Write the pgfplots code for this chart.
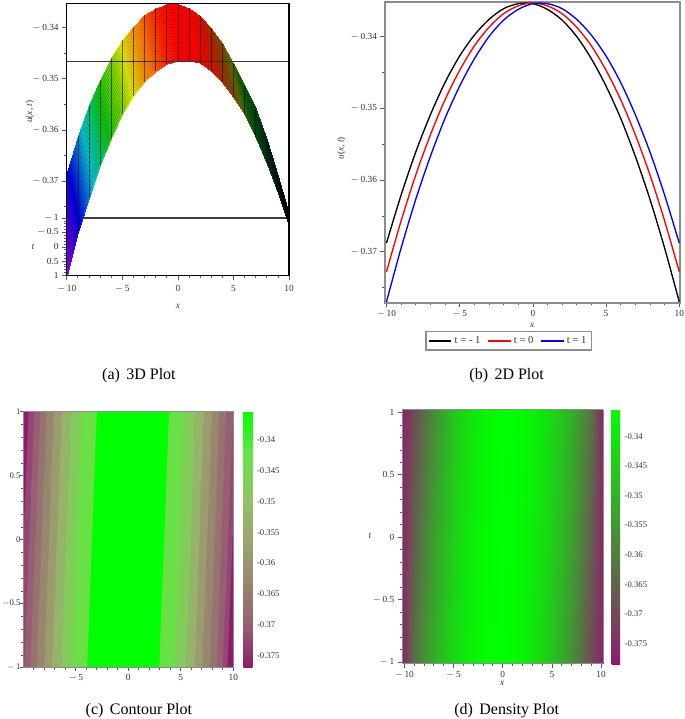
\documentclass[border=0pt]{standalone}
\usepackage{fontspec}
\setmainfont{Liberation Serif}
\usepackage{pgfplots}
\usepgfplotslibrary{patchplots}
\pgfplotsset{compat=1.18}
\definecolor{frameg}{gray}{0.55}
\definecolor{purp}{RGB}{142,28,110}

% x, v (screen height of the surface edge at t=-1 then t=1), signed distance from the peak
\pgfplotstableread{
-10 -.3682 -33.5
-9 -.3612 -26.8
-8 -.3552 -20.8
-7 -.3503 -15.6
-6 -.3460 -11.1
-5 -.3425 -7.4
-4 -.3398 -4.5
-3 -.3376 -2.3
-2 -.3361 -.8
-1 -.3354 -.1
0 -.3354 .1
1 -.3362 .9
2 -.3377 2.4
3 -.3400 4.7
4 -.3431 7.8
5 -.3469 11.6
6 -.3514 16.1
7 -.3560 21.4
8 -.3620 27.4
9 -.3690 34.2
10 -.3764 41.7
-10 -.3883 -41.7
-9 -.3799 -34.2
-8 -.3732 -27.4
-7 -.3669 -21.4
-6 -.3615 -16.1
-5 -.3569 -11.6
-4 -.3534 -7.8
-3 -.3506 -4.7
-2 -.3485 -2.4
-1 -.3472 -.9
0 -.3466 -.1
1 -.3466 .1
2 -.3470 .8
3 -.3484 2.3
4 -.3506 4.5
5 -.3535 7.4
6 -.3571 11.1
7 -.3616 15.6
8 -.3666 20.8
9 -.3723 26.8
10 -.3787 33.5
}\surftable

% the mesh lines of the surface, one column for each t
\pgfplotstableread{
x h1 h2 h3 h4 h5 h6 h7 h8 h9 h10 h11 h12 h13 h14 h15 h16 h17 h18 h19
-10 -.3692 -.3702 -.3712 -.3722 -.3732 -.3742 -.3752 -.3762 -.3772 -.3783 -.3793 -.3803 -.3813 -.3823 -.3833 -.3843 -.3853 -.3863 -.3873
-9 -.3621 -.3631 -.3640 -.3649 -.3659 -.3668 -.3677 -.3687 -.3696 -.3706 -.3715 -.3724 -.3734 -.3743 -.3752 -.3762 -.3771 -.3780 -.3790
-8 -.3561 -.3570 -.3579 -.3588 -.3597 -.3606 -.3615 -.3624 -.3633 -.3642 -.3651 -.3660 -.3669 -.3678 -.3687 -.3696 -.3705 -.3714 -.3723
-7 -.3511 -.3520 -.3528 -.3536 -.3545 -.3553 -.3561 -.3569 -.3578 -.3586 -.3594 -.3603 -.3611 -.3619 -.3628 -.3636 -.3644 -.3652 -.3661
-6 -.3468 -.3476 -.3483 -.3491 -.3499 -.3507 -.3514 -.3522 -.3530 -.3538 -.3545 -.3553 -.3561 -.3569 -.3576 -.3584 -.3592 -.3600 -.3607
-5 -.3432 -.3439 -.3447 -.3454 -.3461 -.3468 -.3475 -.3483 -.3490 -.3497 -.3504 -.3511 -.3519 -.3526 -.3533 -.3540 -.3547 -.3555 -.3562
-4 -.3405 -.3412 -.3418 -.3425 -.3432 -.3439 -.3446 -.3452 -.3459 -.3466 -.3473 -.3480 -.3486 -.3493 -.3500 -.3507 -.3514 -.3520 -.3527
-3 -.3383 -.3389 -.3396 -.3402 -.3409 -.3415 -.3422 -.3428 -.3435 -.3441 -.3448 -.3454 -.3461 -.3467 -.3474 -.3480 -.3487 -.3493 -.3500
-2 -.3367 -.3373 -.3380 -.3386 -.3392 -.3398 -.3404 -.3411 -.3417 -.3423 -.3429 -.3435 -.3442 -.3448 -.3454 -.3460 -.3466 -.3473 -.3479
-1 -.3360 -.3366 -.3372 -.3378 -.3384 -.3389 -.3395 -.3401 -.3407 -.3413 -.3419 -.3425 -.3431 -.3437 -.3443 -.3448 -.3454 -.3460 -.3466
0 -.3360 -.3365 -.3371 -.3376 -.3382 -.3388 -.3393 -.3399 -.3404 -.3410 -.3416 -.3421 -.3427 -.3432 -.3438 -.3444 -.3449 -.3455 -.3460
1 -.3367 -.3372 -.3378 -.3383 -.3388 -.3393 -.3398 -.3404 -.3409 -.3414 -.3419 -.3424 -.3430 -.3435 -.3440 -.3445 -.3450 -.3456 -.3461
2 -.3382 -.3386 -.3391 -.3396 -.3400 -.3405 -.3410 -.3414 -.3419 -.3424 -.3428 -.3433 -.3437 -.3442 -.3447 -.3451 -.3456 -.3461 -.3465
3 -.3404 -.3408 -.3413 -.3417 -.3421 -.3425 -.3429 -.3434 -.3438 -.3442 -.3446 -.3450 -.3455 -.3459 -.3463 -.3467 -.3471 -.3476 -.3480
4 -.3435 -.3439 -.3442 -.3446 -.3450 -.3454 -.3457 -.3461 -.3465 -.3469 -.3472 -.3476 -.3480 -.3484 -.3487 -.3491 -.3495 -.3499 -.3502
5 -.3472 -.3476 -.3479 -.3482 -.3486 -.3489 -.3492 -.3495 -.3499 -.3502 -.3505 -.3509 -.3512 -.3515 -.3519 -.3522 -.3525 -.3528 -.3532
6 -.3517 -.3520 -.3523 -.3525 -.3528 -.3531 -.3534 -.3537 -.3540 -.3543 -.3545 -.3548 -.3551 -.3554 -.3557 -.3560 -.3562 -.3565 -.3568
7 -.3563 -.3566 -.3568 -.3571 -.3574 -.3577 -.3580 -.3582 -.3585 -.3588 -.3591 -.3594 -.3596 -.3599 -.3602 -.3605 -.3608 -.3610 -.3613
8 -.3622 -.3625 -.3627 -.3629 -.3632 -.3634 -.3636 -.3638 -.3641 -.3643 -.3645 -.3648 -.3650 -.3652 -.3655 -.3657 -.3659 -.3661 -.3664
9 -.3692 -.3693 -.3695 -.3697 -.3698 -.3700 -.3702 -.3703 -.3705 -.3707 -.3708 -.3710 -.3711 -.3713 -.3715 -.3716 -.3718 -.3720 -.3721
10 -.3765 -.3766 -.3767 -.3769 -.3770 -.3771 -.3772 -.3773 -.3774 -.3776 -.3777 -.3778 -.3779 -.3780 -.3781 -.3782 -.3784 -.3785 -.3786
}\hatchtable

\pgfplotstableread{
-10.3 -1.02 -.3785
-9 -1.02 -.3621
-8 -1.02 -.3561
-7 -1.02 -.3509
-6 -1.02 -.3464
-5 -1.02 -.3427
-4 -1.02 -.3398
-3 -1.02 -.3376
-2 -1.02 -.3361
-1 -1.02 -.3354
0 -1.02 -.3354
1 -1.02 -.3362
2 -1.02 -.3377
3 -1.02 -.3400
4 -1.02 -.3431
5 -1.02 -.3469
6 -1.02 -.3514
7 -1.02 -.3567
8 -1.02 -.3627
9 -1.02 -.3695
10.3 -1.02 -.3785
-10.3 0 -.3785
-9 0 -.3657
-8 0 -.3593
-7 0 -.3537
-6 0 -.3488
-5 0 -.3447
-4 0 -.3413
-3 0 -.3387
-2 0 -.3368
-1 0 -.3357
0 0 -.3353
1 0 -.3357
2 0 -.3368
3 0 -.3387
4 0 -.3413
5 0 -.3447
6 0 -.3488
7 0 -.3537
8 0 -.3593
9 0 -.3657
10.3 0 -.3785
-10.3 1.02 -.3785
-9 1.02 -.3695
-8 1.02 -.3627
-7 1.02 -.3567
-6 1.02 -.3514
-5 1.02 -.3469
-4 1.02 -.3431
-3 1.02 -.3400
-2 1.02 -.3377
-1 1.02 -.3362
0 1.02 -.3354
1 1.02 -.3354
2 1.02 -.3361
3 1.02 -.3376
4 1.02 -.3398
5 1.02 -.3427
6 1.02 -.3464
7 1.02 -.3509
8 1.02 -.3561
9 1.02 -.3621
10.3 1.02 -.3785
}\densitytable

\pgfplotsset{
  tinyticks/.style={
    scale only axis,
    tick style={black!65,line width=.5pt},
    major tick length=3.5pt, minor tick length=2pt,
    tick align=outside,
    tick label style={font=\fontsize{7}{8}\selectfont,text=black!80},
    xticklabel style={yshift=1pt},
    yticklabel style={xshift=1pt},
    xtick pos=bottom, ytick pos=left,
  },
}

\begin{document}
\begin{tikzpicture}
\useasboundingbox (0,0) rectangle (513.75pt,539.25pt);

% (a) 3D plot
\begin{axis}[tinyticks, at={(50pt,332.5pt)}, anchor=south west,
    width=166.75pt, height=204.3pt,
    view={0}{90}, ztick=\empty, zmin=-50, zmax=50,
    xmin=-10, xmax=10, ymin=-.38846, ymax=-.33525,
    xtick={-10,-5,0,5,10},
    xticklabels={$-$\,10,$-$\,5,0,5,10},
    xticklabel style={yshift=-1.5pt},
    minor xtick={-9,-8,-7,-6,-4,-3,-2,-1,1,2,3,4,6,7,8,9},
    ytick={-.38846,-.38565,-.38283,-.38,-.3772,-.37,-.36,-.35,-.34},
    yticklabels={1,0.5,0,$-$\,0.5,$-$\,1,$-$\,0.37,$-$\,0.36,$-$\,0.35,$-$\,0.34},
    minor ytick={-.365,-.355,-.345,-.375,-.3878,-.3873,-.3867,-.3862,-.3851,-.3845,-.3840,-.3834,-.3823,-.3817,-.3811,-.3806,-.3795,-.3789,-.3783,-.3778},
    colormap={hue3d}{rgb255(0pt)=(150,0,230) rgb255(9pt)=(0,0,235) rgb255(17pt)=(0,200,215)
      rgb255(21pt)=(0,205,115) rgb255(25pt)=(15,200,10) rgb255(31pt)=(135,220,0) rgb255(34pt)=(235,235,0)
      rgb255(39pt)=(255,115,0) rgb255(42pt)=(255,0,0)
      rgb255(43pt)=(255,0,0) rgb255(46pt)=(190,40,0) rgb255(50pt)=(130,90,5) rgb255(52pt)=(110,120,10)
      rgb255(56pt)=(15,110,10) rgb255(62pt)=(0,80,20) rgb255(68pt)=(0,50,50) rgb255(75pt)=(0,15,25) rgb255(84pt)=(0,0,10)},
    point meta min=-42, point meta max=42,
    axis line style={black,line width=.8pt}]
  \addplot[black!75,line width=.8pt] coordinates {(-10,-.3772) (10,-.3772)};
  \addplot3[surf,shader=interp,mesh/cols=21,point meta=z] table {\surftable};
  \pgfplotsinvokeforeach{1,...,19}{
    \addplot[black,opacity=.2,line width=.45pt] table[x=x,y=h#1] {\hatchtable};
  }
  \addplot[black!80,line width=.8pt] coordinates {(-10,-.3466) (10,-.3466)};
  \addplot[black,opacity=.55,line width=.35pt,unbounded coords=jump] coordinates {
    (-9,-.3612) (-9,-.3799) (nan,nan) (-8,-.3552) (-8,-.3732) (nan,nan)
    (-7,-.3503) (-7,-.3669) (nan,nan) (-6,-.3460) (-6,-.3615) (nan,nan)
    (-5,-.3425) (-5,-.3569) (nan,nan) (-4,-.3398) (-4,-.3534) (nan,nan)
    (-3,-.3376) (-3,-.3506) (nan,nan) (-2,-.3361) (-2,-.3485) (nan,nan)
    (-1,-.3354) (-1,-.3472) (nan,nan) (0,-.3354) (0,-.3466) (nan,nan)
    (1,-.3362) (1,-.3466) (nan,nan) (2,-.3377) (2,-.3470) (nan,nan)
    (3,-.3400) (3,-.3484) (nan,nan) (4,-.3431) (4,-.3506) (nan,nan)
    (5,-.3469) (5,-.3535) (nan,nan) (6,-.3514) (6,-.3571) (nan,nan)
    (7,-.3560) (7,-.3616) (nan,nan) (8,-.3620) (8,-.3666) (nan,nan)
    (9,-.3690) (9,-.3723)};
\end{axis}

% (b) 2D plot
\begin{axis}[tinyticks, at={(288.75pt,312.2pt)}, anchor=south west,
    width=221.25pt, height=225.8pt,
    xmin=-10.1, xmax=10.05, ymin=-.37712, ymax=-.33512,
    xtick={-10,-5,0,5,10},
    xticklabels={$-$\,10,$-$\,5,0,5,10},
    minor xtick={-9,-8,-7,-6,-4,-3,-2,-1,1,2,3,4,6,7,8,9},
    ytick={-.37,-.36,-.35,-.34},
    yticklabels={$-$\,0.37,$-$\,0.36,$-$\,0.35,$-$\,0.34},
    minor ytick={-.375,-.365,-.355,-.345},
    axis line style={frameg,line width=1.4pt},
    legend style={at={(0.419,-0.1266)},anchor=center,draw=frameg,line width=.9pt,
      font=\fontsize{8}{9}\selectfont,inner sep=1.5pt,text=black!80,
      /tikz/every even column/.append style={column sep=3pt}},
    legend columns=3, legend cell align=left,
    legend image code/.code={\draw[#1] (0pt,0pt) -- (17pt,0pt);},
    every axis plot/.append style={line width=1pt,mark=none,smooth},
  ]
  \addplot[black] coordinates {(-10,-.3688) (-9,-.3621) (-8,-.3561) (-7,-.3509) (-6,-.3464) (-5,-.3427) (-4,-.3398) (-3,-.3376) (-2,-.3361) (-1,-.3354) (0,-.3354) (1,-.3362) (2,-.3377) (3,-.3400) (4,-.3431) (5,-.3469) (6,-.3514) (7,-.3567) (8,-.3627) (9,-.3695) (10,-.3770)};
  \addplot[red] coordinates {(-10,-.3728) (-9,-.3657) (-8,-.3593) (-7,-.3537) (-6,-.3488) (-5,-.3447) (-4,-.3413) (-3,-.3387) (-2,-.3368) (-1,-.3357) (0,-.3353) (1,-.3357) (2,-.3368) (3,-.3387) (4,-.3413) (5,-.3447) (6,-.3488) (7,-.3537) (8,-.3593) (9,-.3657) (10,-.3728)};
  \addplot[blue] coordinates {(-10,-.3770) (-9,-.3695) (-8,-.3627) (-7,-.3567) (-6,-.3514) (-5,-.3469) (-4,-.3431) (-3,-.3400) (-2,-.3377) (-1,-.3362) (0,-.3354) (1,-.3354) (2,-.3361) (3,-.3376) (4,-.3398) (5,-.3427) (6,-.3464) (7,-.3509) (8,-.3561) (9,-.3621) (10,-.3688)};
  \legend{t = - 1,t = 0,t = 1}
\end{axis}

% (c) contour plot
\begin{axis}[tinyticks, at={(17.5pt,38.5pt)}, anchor=south west,
    width=157.5pt, height=192pt,
    xmin=-10, xmax=10, ymin=-1, ymax=1, axis on top,
    major tick length=2.5pt, minor tick length=1.6pt,
    xtick={-5,0,5,10}, xticklabels={$-$\,5,0,5,10},
    minor xtick={-9,-8,-7,-6,-4,-3,-2,-1,1,2,3,4,6,7,8,9},
    ytick={-1,-.5,0,.5,1}, yticklabels={$-$\,1,$-$0.5,0,0.5,1},
    yticklabel style={font=\fontsize{6.5}{7}\selectfont,inner xsep=.5pt},
    minor ytick={-.9,-.8,-.7,-.6,-.4,-.3,-.2,-.1,.1,.2,.3,.4,.6,.7,.8,.9},
    axis line style={frameg,line width=.8pt},
    colormap={contourbar}{rgb255=(142,28,110) rgb255=(150,95,112) rgb255=(150,135,110) rgb255=(155,165,110) rgb255=(145,195,100) rgb255=(105,225,75) rgb255=(0,255,0)},
    point meta min=-.3769, point meta max=-.3355,
    colorbar,
    colorbar style={at={(1.0476,1)},anchor=north west,width=6.75pt,height=192pt,
      axis line style={draw=none},
      ytick={-.375,-.37,-.365,-.36,-.355,-.35,-.345,-.34},
      yticklabels={-0.375,-0.37,-0.365,-0.36,-0.355,-0.35,-0.345,-0.34},
      yticklabel style={font=\fontsize{6.5}{7}\selectfont,text=black!80},
      major tick length=0pt, ytick pos=right, minor tick length=0pt},
  ]
  % bands from the outside in: contour x at t=1 and t=-1
  \addplot[fill=purp,draw=none] coordinates {(-10,-1) (10,-1) (10,1) (-10,1)} --cycle;
  \addplot[fill={rgb,255:red,150;green,70;blue,115},draw=none] coordinates {(-9.50,1) (10.43,1) (9.43,-1) (-10.45,-1)} --cycle;
  \addplot[fill={rgb,255:red,150;green,95;blue,115},draw=none] coordinates {(-8.96,1) (10,1) (8.98,-1) (-9.91,-1)} --cycle;
  \addplot[fill={rgb,255:red,150;green,115;blue,110},draw=none] coordinates {(-8.38,1) (9.30,1) (8.41,-1) (-9.34,-1)} --cycle;
  \addplot[fill={rgb,255:red,150;green,135;blue,110},draw=none] coordinates {(-7.78,1) (8.66,1) (7.77,-1) (-8.74,-1)} --cycle;
  \addplot[fill={rgb,255:red,155;green,155;blue,110},draw=none] coordinates {(-7.11,1) (7.99,1) (7.04,-1) (-8.00,-1)} --cycle;
  \addplot[fill={rgb,255:red,150;green,180;blue,105},draw=none] coordinates {(-6.35,1) (7.20,1) (6.34,-1) (-7.27,-1)} --cycle;
  \addplot[fill={rgb,255:red,130;green,205;blue,90},draw=none] coordinates {(-5.45,1) (6.34,1) (5.48,-1) (-6.35,-1)} --cycle;
  \addplot[fill={rgb,255:red,105;green,225;blue,70},draw=none] coordinates {(-4.44,1) (5.32,1) (4.43,-1) (-5.35,-1)} --cycle;
  \addplot[fill={rgb,255:red,0;green,255;blue,0},draw=none] coordinates {(-3.00,1) (3.88,1) (2.93,-1) (-3.92,-1)} --cycle;
\end{axis}

% (d) density plot
\begin{axis}[tinyticks, at={(301.7pt,41.8pt)}, anchor=south west,
    width=150.8pt, height=190pt,
    view={0}{90}, ztick=\empty,
    xmin=-10.2, xmax=10.23, ymin=-1.01, ymax=1.02, axis on top,
    xtick={-10,-5,0,5,10}, xticklabels={$-$\,10,$-$\,5,0,5,10},
    minor xtick={-9,-8,-7,-6,-4,-3,-2,-1,1,2,3,4,6,7,8,9},
    ytick={-1,-.5,0,.5,1}, yticklabels={$-$\,1,$-$\,0.5,0,0.5,1},
    minor ytick={-.9,-.8,-.7,-.6,-.4,-.3,-.2,-.1,.1,.2,.3,.4,.6,.7,.8,.9},
    axis line style={frameg,line width=.8pt},
    colormap={densitybar}{rgb255=(142,28,110) rgb255=(0,255,0)},
    point meta min=-.3785, point meta max=-.3354,
    colorbar,
    colorbar style={at={(1.0418,1.003)},anchor=north west,width=6.2pt,height=191.25pt,
      axis line style={draw=none},
      ytick={-.375,-.37,-.365,-.36,-.355,-.35,-.345,-.34},
      yticklabels={-0.375,-0.37,-0.365,-0.36,-0.355,-0.35,-0.345,-0.34},
      yticklabel style={font=\fontsize{6.5}{7}\selectfont,text=black!80},
      major tick length=0pt, ytick pos=right, minor tick length=0pt},
  ]
  \addplot3[surf,shader=interp,mesh/cols=21,point meta=z] table {\densitytable};
\end{axis}

% labels and captions
\tikzset{lab/.style={font=\fontsize{7}{8}\selectfont,text=black!80,inner sep=0pt}}
\node[lab] at (133.5pt,309.8pt) {\textit{x}};
\node[lab,rotate=90] at (22.5pt,455.5pt) {\textit{u}(\textit{x}, \textit{t})};
\node[lab] at (24.8pt,354pt) {\textit{t}};
\node[lab] at (399.2pt,295.5pt) {\textit{x}};
\node[lab,rotate=90] at (256pt,428pt) {\textit{u}(\textit{x}, \textit{t})};
\node[lab] at (376.7pt,27pt) {\textit{x}};
\node[lab] at (277.5pt,137.2pt) {\textit{t}};
\tikzset{captxt/.style={font=\fontsize{12}{14}\selectfont,text=black,inner sep=0pt}}
\node[captxt] at (104.2pt,257.8pt) {(a)\hspace{.4em}3D Plot};
\node[captxt] at (380pt,257.8pt) {(b)\hspace{.4em}2D Plot};
\node[captxt] at (104.2pt,6.3pt) {(c)\hspace{.4em}Contour Plot};
\node[captxt] at (380pt,6.3pt) {(d)\hspace{.4em}Density Plot};
\end{tikzpicture}
\end{document}
